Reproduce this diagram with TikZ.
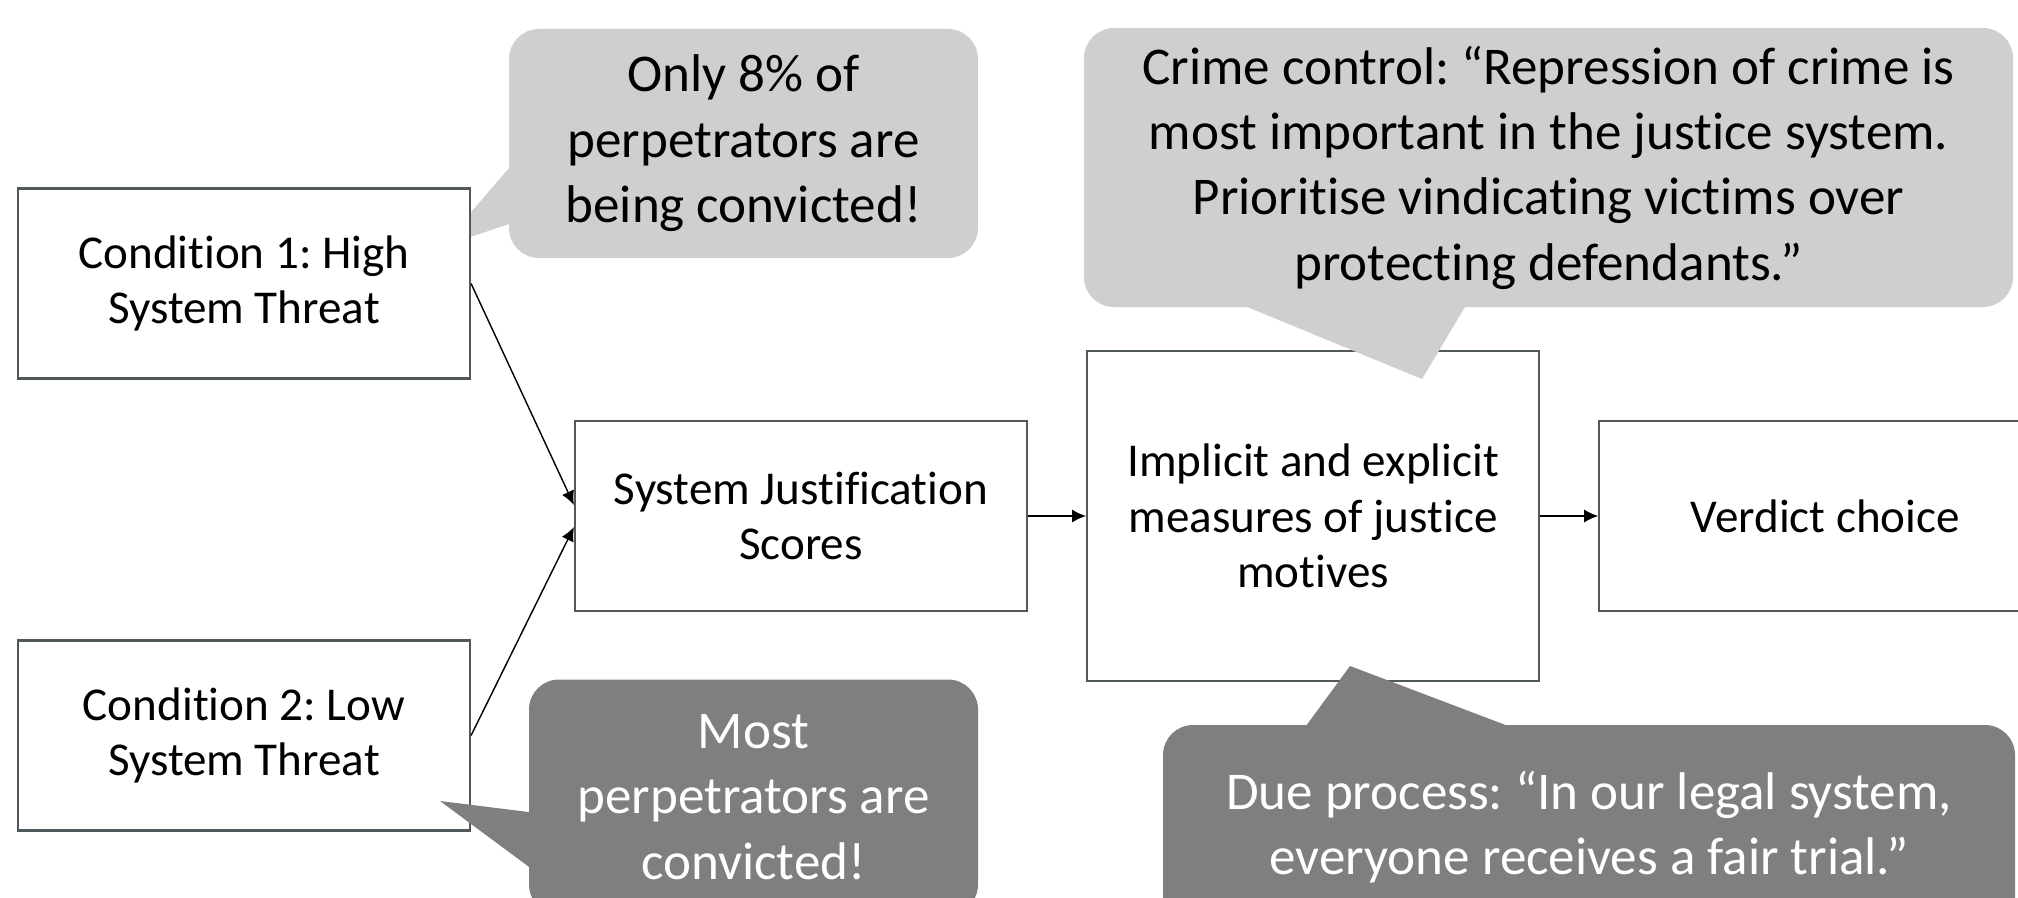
\documentclass[tikz,border=0pt]{standalone}
\usepackage{fontspec}
\setmainfont[Ligatures=NoCommon]{Carlito}
\frenchspacing
\usetikzlibrary{positioning,calc,arrows.meta}
\definecolor{bubbleLight}{RGB}{208,206,206}
\definecolor{bubbleDark} {RGB}{127,127,127}
\definecolor{boxEdge}    {RGB}{80,88,92}
\tikzstyle{stage}   = [draw=boxEdge, line width=0.6pt, fill=white, align=center, inner sep=0pt, minimum width=4.52cm, minimum height=1.9cm, font=\fontsize{13.4}{15.8}\selectfont]
\tikzstyle{thought} = [rounded corners=0.3cm, align=center, inner sep=0pt, font=\fontsize{15.1}{18.6}\selectfont]
\tikzstyle{link}    = [line width=0.4pt, -{Latex[length=1.4mm,width=1.3mm]}]
\tikzset{
  lightBubble/.style={thought, fill=bubbleLight, text=black},
  darkBubble/.style={thought, fill=bubbleDark, text=white}
}

\begin{document}
\begin{tikzpicture}
  \useasboundingbox (0,0) rectangle (20.18,8.97);
  % bubble behind the first condition
  \node[lightBubble, minimum width=4.69cm, minimum height=2.29cm] (fewConvicted) at (7.435,7.535) {Only 8\% of\\perpetrators are\\being convicted!};
  \coordinate (fewTip) at (4.41,6.50);
  \fill[bubbleLight] ($(fewConvicted.north west)!0.585!(fewConvicted.south west)+(0.05,0)$) -- (fewTip) -- ($(fewConvicted.north west)!0.843!(fewConvicted.south west)+(0.05,0)$) -- cycle;

  % stages
  \node[stage] (cond1)    at (2.44,6.135) {Condition 1: High\\System Threat};
  \node[stage] (cond2)    at (2.44,1.615) {Condition 2: Low\\System Threat};
  \node[stage] (sjs)      at (8.01,3.81)  {System Justification\\Scores};
  \node[stage, minimum height=3.3cm, right=0.58cm of sjs] (motives) {Implicit and explicit\\measures of justice\\motives};
  \node[stage, right=0.58cm of motives] (verdict) {Verdict choice};

  \draw[link] (cond1.east) -- ([yshift=0.11cm]sjs.west);
  \draw[link] (cond2.east) -- ([yshift=-0.11cm]sjs.west);
  \draw[link] (sjs) -- (motives);
  \draw[link] (motives) -- (verdict);

  % remaining bubbles
  \node[lightBubble, minimum width=9.29cm, minimum height=2.79cm] (crimeControl) at (15.485,7.295) {Crime control: “Repression of crime is\\most important in the justice system.\\Prioritise vindicating victims over\\protecting defendants.”};
  \coordinate (crimeTip) at (14.22,5.18);
  \fill[bubbleLight] ($(crimeControl.south west)!0.165!(crimeControl.south east)+(0,0.05)$) -- (crimeTip) -- ($(crimeControl.south west)!0.413!(crimeControl.south east)+(0,0.05)$) -- cycle;

  \node[darkBubble, minimum width=4.49cm, minimum height=2.35cm] (mostConvicted) at (7.535,1.00) {Most\\perpetrators are\\convicted!};
  \coordinate (mostTip) at (4.40,0.96);
  \fill[bubbleDark] ($(mostConvicted.north west)!0.566!(mostConvicted.south west)+(0.05,0)$) -- (mostTip) -- ($(mostConvicted.north west)!0.809!(mostConvicted.south west)+(0.05,0)$) -- cycle;

  \node[darkBubble, minimum width=8.52cm, minimum height=2.04cm] (dueProcess) at (15.89,0.70) {Due process: “In our legal system,\\everyone receives a fair trial.”};
  \coordinate (dueTip) at (13.50,2.31);
  \fill[bubbleDark] ($(dueProcess.north west)!0.1655!(dueProcess.north east)+(0,-0.05)$) -- (dueTip) -- ($(dueProcess.north west)!0.4155!(dueProcess.north east)+(0,-0.05)$) -- cycle;
\end{tikzpicture}
\end{document}
